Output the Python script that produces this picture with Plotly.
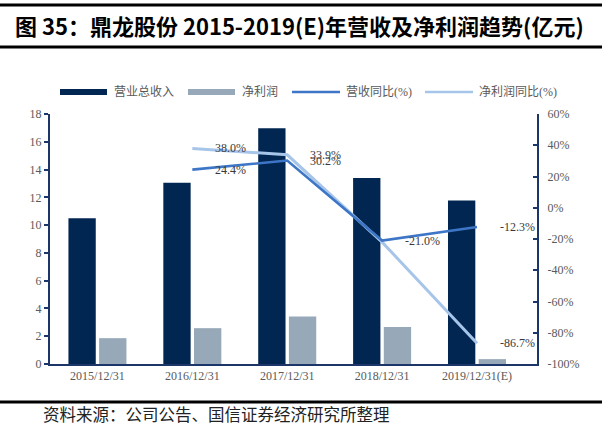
import plotly.graph_objects as go

# ---- data ----
categories = ["2015/12/31", "2016/12/31", "2017/12/31", "2018/12/31", "2019/12/31(E)"]
revenue = [10.5, 13.05, 16.98, 13.40, 11.78]          # 营业总收入 (亿元)
net_profit = [1.86, 2.58, 3.42, 2.67, 0.35]           # 净利润 (亿元)
revenue_yoy = [None, 24.4, 30.2, -21.0, -12.3]        # 营收同比(%)
profit_yoy = [None, 38.0, 33.9, -22.0, -86.7]         # 净利润同比(%)
profit_yoy_labels = [None, "38.0%", "33.9%", None, "-86.7%"]
revenue_yoy_labels = [None, "24.4%", "30.2%", "-21.0%", "-12.3%"]
series_names = ["营业总收入", "净利润", "营收同比(%)", "净利润同比(%)"]
left_ticks = [0, 2, 4, 6, 8, 10, 12, 14, 16, 18]
right_ticks = [-100, -80, -60, -40, -20, 0, 20, 40, 60]
right_tick_text = ["-100%", "-80%", "-60%", "-40%", "-20%", "0%", "20%", "40%", "60%"]

title_text = "图 35：鼎龙股份 2015-2019(E)年营收及净利润趋势(亿元)"
source_text = "资料来源：公司公告、国信证券经济研究所整理"

# ---- styles ----
C_DARK = "#022652"
C_GREY = "#97a8b9"
C_LINE1 = "#3d76c6"
C_LINE2 = "#a7c5e9"
C_AXIS = "#1c3669"
TXT = "#595959"
FONT = "Liberation Serif, Noto Sans CJK SC, serif"

fig = go.Figure()
fig.add_trace(go.Bar(x=categories, y=revenue, name=series_names[0],
                     marker=dict(color=C_DARK, line=dict(width=0)), showlegend=False))
fig.add_trace(go.Bar(x=categories, y=net_profit, name=series_names[1],
                     marker=dict(color=C_GREY, line=dict(width=0)), showlegend=False))
fig.add_trace(go.Scatter(x=categories, y=profit_yoy, name=series_names[3], yaxis="y2",
                         mode="lines", line=dict(color=C_LINE2, width=3), showlegend=False))
fig.add_trace(go.Scatter(x=categories, y=revenue_yoy, name=series_names[2], yaxis="y2",
                         mode="lines", line=dict(color=C_LINE1, width=2.6), showlegend=False))

annotations = []
for cat, v, t in zip(categories, revenue_yoy, revenue_yoy_labels):
    if t:
        annotations.append(dict(x=cat, y=v, xref="x", yref="y2", text=t, showarrow=False,
                                xanchor="left", yanchor="middle", xshift=21, yshift=0,
                                font=dict(family=FONT, size=12, color="#3a3a3a")))
for cat, v, t in zip(categories, profit_yoy, profit_yoy_labels):
    if t:
        annotations.append(dict(x=cat, y=v, xref="x", yref="y2", text=t, showarrow=False,
                                xanchor="left", yanchor="middle", xshift=21, yshift=0,
                                font=dict(family=FONT, size=12, color="#3a3a3a")))

# figure geometry helpers (paper coords relative to plot area)
W, H = 602, 427
L, R, T, B = 50, 65, 114, 63
pw, ph = W - L - R, H - T - B


def px(x):
    return (x - L) / pw


def py(y):
    return (H - B - y) / ph


shapes = []
# title rules
for yy in (5, 47):
    shapes.append(dict(type="line", xref="paper", yref="paper", x0=px(0), x1=px(W),
                       y0=py(yy), y1=py(yy), line=dict(color="black", width=3)))
# bottom rule
shapes.append(dict(type="line", xref="paper", yref="paper", x0=px(0), x1=px(W),
                   y0=py(402), y1=py(402), line=dict(color="black", width=3)))

# custom legend
leg_y = 92
legend_items = [
    (series_names[0], "bar", C_DARK, 60, 107, 112),
    (series_names[1], "bar", C_GREY, 188, 235, 240),
    (series_names[2], "line", C_LINE1, 292, 340, 344),
    (series_names[3], "line", C_LINE2, 425, 473, 477),
]
for name, kind, col, x0, x1, tx in legend_items:
    if kind == "bar":
        shapes.append(dict(type="rect", xref="paper", yref="paper", x0=px(x0), x1=px(x1),
                           y0=py(leg_y + 3), y1=py(leg_y - 3), fillcolor=col, line=dict(width=0)))
    else:
        shapes.append(dict(type="line", xref="paper", yref="paper", x0=px(x0), x1=px(x1),
                           y0=py(leg_y), y1=py(leg_y), line=dict(color=col, width=2.5)))
    annotations.append(dict(x=px(tx), y=py(leg_y), xref="paper", yref="paper", text=name,
                            showarrow=False, xanchor="left", yanchor="middle",
                            font=dict(family=FONT, size=12, color=TXT)))

annotations.append(dict(x=px(13), y=py(25), xref="paper", yref="paper",
                        text="<b>" + title_text + "</b>", showarrow=False,
                        xanchor="left", yanchor="middle",
                        font=dict(family="Noto Sans CJK SC, Liberation Sans, sans-serif",
                                  size=22, color="black")))
annotations.append(dict(x=px(41), y=py(414), xref="paper", yref="paper",
                        text=source_text, showarrow=False, xanchor="left", yanchor="middle",
                        font=dict(family="Noto Sans CJK SC, sans-serif", size=16.5, color="#222")))

fig.update_layout(
    width=W, height=H,
    margin=dict(l=L, r=R, t=T, b=B, pad=0, autoexpand=False),
    paper_bgcolor="white", plot_bgcolor="white",
    barmode="group", bargap=0.353, bargroupgap=0.11,
    showlegend=False,
    xaxis=dict(type="category", showline=True, linecolor=C_AXIS, linewidth=2,
               ticks="", showgrid=False, zeroline=False, automargin=False,
               tickfont=dict(family=FONT, size=12, color=TXT)),
    yaxis=dict(range=[0, 18], tickvals=left_ticks, showline=True, linecolor=C_AXIS,
               linewidth=2, ticks="outside", ticklen=4, tickwidth=1.5, tickcolor=C_AXIS,
               showgrid=False, zeroline=False, automargin=False,
               tickfont=dict(family=FONT, size=12, color=TXT)),
    yaxis2=dict(range=[-100, 60], tickvals=right_ticks, ticktext=right_tick_text,
                overlaying="y", side="right", showline=True, linecolor=C_AXIS, linewidth=2,
                ticks="inside", ticklen=4, tickwidth=1.5, tickcolor=C_AXIS,
                showgrid=False, zeroline=False, ticklabelstandoff=6, automargin=False,
                tickfont=dict(family=FONT, size=12, color=TXT)),
    shapes=shapes,
    annotations=annotations,
)

fig.write_html("out.html", config={"displayModeBar": False},
               post_script="document.body.style.margin='0';document.body.style.overflow='hidden';")
